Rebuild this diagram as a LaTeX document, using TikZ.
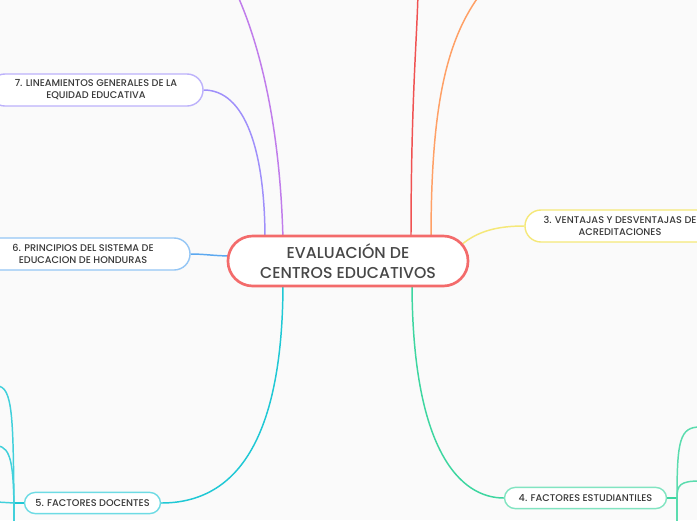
\documentclass[tikz,border=0pt]{standalone}
\usepackage{fontspec}
\setmainfont{Poppins}[UprightFont=* Medium, BoldFont=* SemiBold]
\usetikzlibrary{positioning}
\definecolor{rootred}{HTML}{F36B6B}
\definecolor{inkgray}{HTML}{474747}
\definecolor{lilac}{HTML}{C07CEB}
\definecolor{periw}{HTML}{9F8FFA}
\definecolor{redline}{HTML}{F05252}
\definecolor{orangeline}{HTML}{FFA066}
\definecolor{yellowline}{HTML}{F5E878}
\definecolor{blueline}{HTML}{5BA8F0}
\definecolor{cyanline}{HTML}{1FC8D5}
\definecolor{greenline}{HTML}{3DD6A0}

\begin{document}
\begin{tikzpicture}[x=0.025cm, y=-0.025cm,
        root/.style={draw=rootred, line width=1.9pt, fill=white,
                     rounded corners=0.62cm, minimum width=6cm, minimum height=1.25cm,
                     align=center, text=inkgray,
                     font=\fontsize{11.2}{14.4}\selectfont},
        topic/.style={line width=1pt, fill=white, rounded corners=0.4cm,
                      minimum height=0.8cm, align=center, text=inkgray!80!black,
                      font=\fontsize{6.9}{8.6}\selectfont},
        small/.style={line width=1pt, fill=white, rounded corners=0.27cm,
                      minimum height=0.53cm, align=center, text=inkgray!80!black,
                      font=\fontsize{6.9}{8}\selectfont},
        link/.style={line width=1.05pt}
    ]

    \fill[white!98!black] (0,0) rectangle (697,520);
    \useasboundingbox (0,0) rectangle (697,520);
    \clip (0,0) rectangle (697,520);

    \coordinate (topa) at (236,-8);
    \coordinate (topb) at (418,-8);
    \coordinate (topc) at (482,-8);

    \draw[link, lilac] (283,240) .. controls (280,120) and (258,40) .. (topa);
    \draw[link, redline] (411,240) .. controls (411,100) and (417,40) .. (topb);
    \draw[link, orangeline] (431,240) .. controls (431,110) and (445,40) .. (topc);

    \node[topic, draw=periw!70, minimum width=5.35cm] (lin) at (96,90)
        {7. LINEAMIENTOS GENERALES DE LA\\EQUIDAD EDUCATIVA};
    \node[topic, draw=blueline!65, minimum width=5.35cm] (pri) at (83,254)
        {6. PRINCIPIOS DEL SISTEMA DE\\EDUCACION DE HONDURAS};
    \node[topic, draw=yellowline, minimum width=4.75cm] (ven) at (620,226)
        {3. VENTAJAS Y DESVENTAJAS DE\\ACREDITACIONES};
    \node[small, draw=cyanline!65, minimum width=3.4cm] (doc) at (92.5,503)
        {5. FACTORES DOCENTES};
    \node[small, draw=greenline!65, minimum width=4.05cm] (est) at (585.5,498)
        {4. FACTORES ESTUDIANTILES};

    \draw[link, periw] (lin.east) .. controls (245,90) and (265,150) .. (265,240);
    \draw[link, blueline] (pri.east) .. controls (205,254) and (215,256) .. (232,256);
    \draw[link, yellowline] (ven.west) .. controls (500,226) and (478,230) .. (460,246);
    \draw[link, cyanline] (283,282) .. controls (283,450) and (230,503) .. (doc.east);
    \draw[link, greenline] (412,282) .. controls (412,450) and (460,498) .. (est.west);

    \node[root] (eval) at (348,261) {EVALUACIÓN DE\\CENTROS EDUCATIVOS};

    \coordinate (hubl) at (14,503);
    \coordinate (hubr) at (677,498);
    \draw[cyanline, line width=1.8pt] (doc.west) -- (hubl);
    \draw[link, cyanline!85] (hubl) .. controls (13,420) and (13,386) .. (-3,386);
    \draw[link, cyanline!85] (hubl) .. controls (13,470) and (12,446) .. (-3,446);
    \draw[link, cyanline!85] (hubl) -- (-3,502);
    \draw[link, cyanline!85] (hubl) -- (14,525);
    \draw[greenline, line width=1.3pt] (est.east) -- (hubr);
    \draw[link, greenline!85] (hubr) .. controls (677,440) and (680,427) .. (700,427);
    \draw[link, greenline!85] (hubr) .. controls (677,485) and (680,481) .. (700,481);
    \draw[link, greenline!85] (hubr) -- (677,525);

\end{tikzpicture}
\end{document}
